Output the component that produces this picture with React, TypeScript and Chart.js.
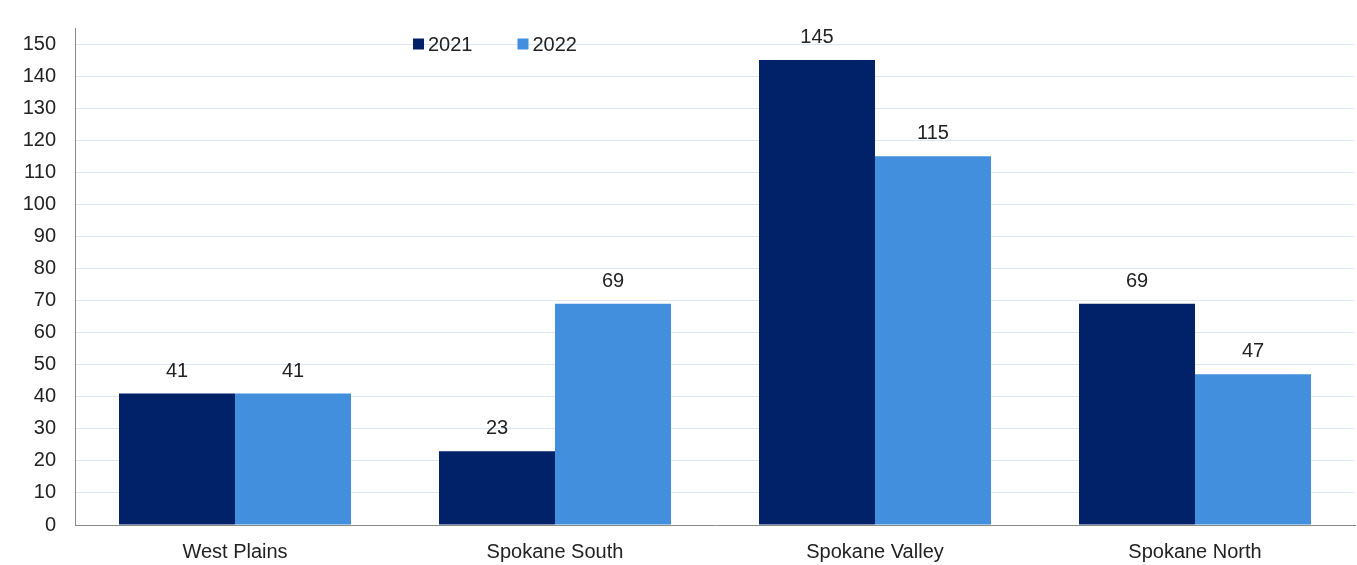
import React, { useEffect, useRef } from "react";
import { Chart, registerables } from "chart.js";

Chart.register(...registerables);

const categories = ["West Plains", "Spokane South", "Spokane Valley", "Spokane North"];
const series2021 = [41, 23, 145, 69];
const series2022 = [41, 69, 115, 47];
const seriesNames = ["2021", "2022"];
const colors = ["#012169", "#428fde"];

const FONT = "'Liberation Sans', Arial, Helvetica, sans-serif";
const FSIZE = 20;

const valueLabels = {
  id: "valueLabels",
  afterDatasetsDraw(chart: any) {
    const ctx = chart.ctx;
    ctx.save();
    ctx.font = `${FSIZE}px ${FONT}`;
    ctx.fillStyle = "#222";
    ctx.textAlign = "center";
    ctx.textBaseline = "alphabetic";
    chart.data.datasets.forEach((ds: any, i: number) => {
      const meta = chart.getDatasetMeta(i);
      meta.data.forEach((bar: any, j: number) => {
        ctx.fillText(String(ds.data[j]), bar.x, bar.y - 17);
      });
    });
    ctx.restore();
  },
};

const customLegend = {
  id: "customLegend",
  afterDraw(chart: any) {
    const ctx = chart.ctx;
    ctx.save();
    ctx.font = `${FSIZE}px ${FONT}`;
    ctx.textBaseline = "middle";
    ctx.textAlign = "left";
    let x = 413;
    const y = 44;
    chart.data.datasets.forEach((ds: any) => {
      ctx.fillStyle = ds.backgroundColor;
      ctx.fillRect(x, y - 5.5, 11, 11);
      ctx.fillStyle = "#222";
      ctx.fillText(ds.label, x + 15, y + 1);
      const w = ctx.measureText(ds.label).width;
      x += 15 + w + 45;
    });
    ctx.restore();
  },
};

export default function App() {
  const ref = useRef<HTMLCanvasElement>(null);
  useEffect(() => {
    if (!ref.current) return;
    const chart = new Chart(ref.current, {
      type: "bar",
      data: {
        labels: categories,
        datasets: [
          { label: seriesNames[0], data: series2021, backgroundColor: colors[0] },
          { label: seriesNames[1], data: series2022, backgroundColor: colors[1] },
        ],
      },
      options: {
        animation: false,
        responsive: true,
        maintainAspectRatio: false,
        layout: { padding: { top: 28, right: 2, left: 0, bottom: 0 } },
        datasets: { bar: { categoryPercentage: 0.725, barPercentage: 1.0 } },
        plugins: { legend: { display: false }, tooltip: { enabled: false } },
        scales: {
          x: {
            grid: { display: false, drawTicks: false },
            border: { display: true, color: "#8a8a8a", width: 1 },
            ticks: { font: { family: FONT, size: FSIZE }, color: "#222", padding: 15 },
            afterFit: (s: any) => { s.height = 40; s.paddingLeft = 0; s.paddingRight = 0; },
          },
          y: {
            min: 0,
            max: 155,
            grid: { color: "#dde6f5", drawTicks: false, lineWidth: 1 },
            border: { display: true, color: "#8a8a8a", width: 1 },
            ticks: {
              stepSize: 10,
              includeBounds: false,
              font: { family: FONT, size: FSIZE },
              color: "#222",
              padding: 19,
            },
            afterFit: (s: any) => { s.width = 75; s.paddingTop = 0; s.paddingBottom = 0; },
          },
        },
      },
      plugins: [valueLabels, customLegend],
    });
    return () => chart.destroy();
  }, []);
  return (
    <div style={{ position: "fixed", left: 0, top: 0, width: 1357, height: 565, background: "#fff" }}>
      <canvas ref={ref} />
    </div>
  );
}
